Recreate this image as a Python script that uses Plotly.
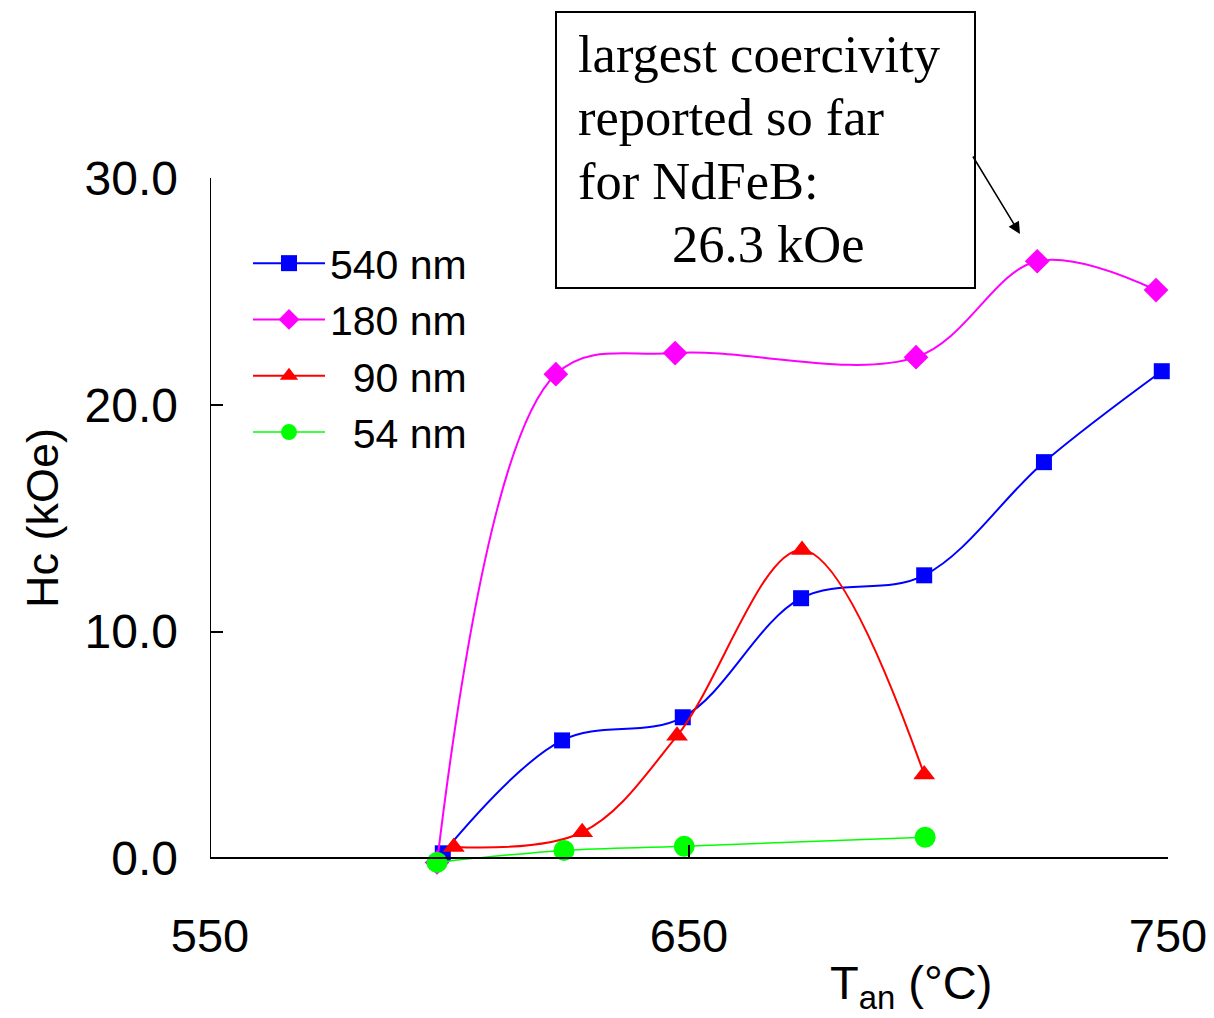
import plotly.graph_objects as go

# ---- data ----
x_540 = [598.6, 623.5, 648.7, 673.4, 699.1, 724.1, 748.7]
y_540 = [0.22, 5.2, 6.22, 11.47, 12.48, 17.47, 21.48]

x_180 = [597.4, 622.2, 647.1, 697.4, 722.7, 747.5]
y_180 = [-0.18, 21.35, 22.28, 22.1, 26.33, 25.06]

x_90 = [600.9, 627.7, 647.5, 673.6, 699.1]
y_90 = [0.5, 1.15, 5.4, 13.6, 3.7]

x_54 = [597.4, 623.9, 649.0, 699.3]
y_54 = [-0.18, 0.35, 0.53, 0.93]

names = ["540 nm", "180 nm", "\u00a0\u00a090 nm", "\u00a0\u00a054 nm"]
x_ticks = [550, 650, 750]
y_ticks = [0, 10, 20, 30]

W, H = 1214, 1018
L, R, T, B = 210, 46, 178, 137
PW, PH = W - L - R, H - T - B
Y_MIN, Y_MAX = -1, 30


def px(xpix):
    return (xpix - L) / PW


def py(ypix):
    return (H - B - ypix) / PH


fig = go.Figure()

series = [
    (x_540, y_540, "#0000ff", "square", 16, 2),
    (x_180, y_180, "#ff00ff", "diamond", 19, 2),
    (x_90, y_90, "#ff0000", "triangle-up", 19, 2),
    (x_54, y_54, "#00ff00", "circle", 21, 1.5),
]
for (xs, ys, col, sym, ms, lw), nm in zip(series, names):
    fig.add_trace(go.Scatter(
        x=xs, y=ys, name=nm, mode="lines+markers",
        line=dict(color=col, width=lw, shape="spline", smoothing=1.0),
        marker=dict(color=col, symbol=sym, size=ms, line=dict(width=0)),
        cliponaxis=False, legendgroup=nm,
    ))

fig.update_layout(
    width=W, height=H,
    margin=dict(l=L, r=R, t=T, b=B, autoexpand=False),
    paper_bgcolor="white", plot_bgcolor="white",
    font=dict(family="Liberation Sans, Arial, sans-serif", color="black"),
    showlegend=True,
    legend=dict(
        x=px(248), y=py(230), xanchor="left", yanchor="top",
        font=dict(size=41, family="Liberation Sans, Arial, sans-serif"),
        bgcolor="rgba(0,0,0,0)", tracegroupgap=0, itemwidth=72,
    ),
    xaxis=dict(
        range=[550, 750], tickvals=x_ticks, ticks="inside", ticklen=12,
        tickwidth=2, tickcolor="black", showline=True, linecolor="black",
        linewidth=2, showgrid=False, zeroline=False,
        anchor="free", position=(0 - Y_MIN) / (Y_MAX - Y_MIN),
        tickfont=dict(size=47), ticklabelstandoff=36, automargin=False,
    ),
    yaxis=dict(
        range=[Y_MIN, Y_MAX], tickvals=y_ticks, tickformat=".1f",
        ticks="inside", ticklen=13, tickwidth=2, tickcolor="black",
        showline=False, showgrid=False, zeroline=False,
        tickfont=dict(size=48), ticklabelstandoff=31, automargin=False,
    ),
)

# y-axis line from 0 to 30
fig.add_shape(
    type="line", xref="x", yref="y", x0=550, x1=550, y0=0, y1=30,
    line=dict(color="black", width=2), layer="above",
)

# axis titles
fig.add_annotation(
    text="Hc (kOe)", xref="paper", yref="paper", x=px(42), y=py(518),
    xanchor="center", yanchor="middle", textangle=-90, showarrow=False,
    font=dict(size=45),
)
fig.add_annotation(
    text="T<sub>an</sub> (°C)", xref="paper", yref="paper", x=px(911), y=py(986),
    xanchor="center", yanchor="middle", showarrow=False,
    font=dict(size=47),
)

# callout box
fig.add_shape(
    type="rect", xref="paper", yref="paper",
    x0=px(556), x1=px(975), y0=py(288), y1=py(12),
    line=dict(color="black", width=2), fillcolor="white", layer="above",
)
box_lines = ["largest coercivity", "reported so far", "for NdFeB:", "26.3 kOe"]
box_x = [576, 576, 576, 670]
box_y = [54, 117, 181, 244]
for t, bx, by in zip(box_lines, box_x, box_y):
    fig.add_annotation(
        text=t, xref="paper", yref="paper", x=px(bx), y=py(by),
        xanchor="left", yanchor="middle", showarrow=False,
        font=dict(size=52.5, family="Liberation Serif, Times New Roman, serif"),
    )

# arrow
fig.add_annotation(
    text="", xref="paper", yref="paper", x=px(1020), y=py(234),
    ax=972 - 1020, ay=155 - 234, axref="pixel", ayref="pixel",
    showarrow=True, arrowhead=2, arrowsize=1.6, arrowwidth=1.5,
    arrowcolor="black",
)

fig.write_html("out.html")
